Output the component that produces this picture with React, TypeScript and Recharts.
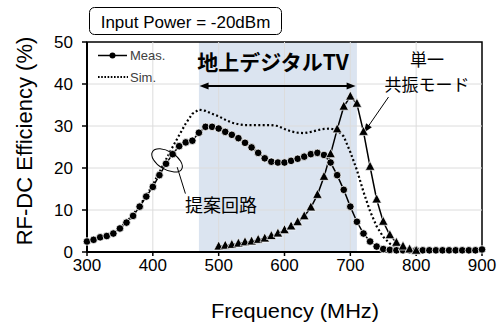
import {
  ComposedChart,
  Line,
  ReferenceArea,
  ReferenceDot,
  ReferenceLine,
  XAxis,
  YAxis,
} from "recharts";

const frequency = [
  300, 310, 320, 330, 340, 350, 360, 370, 380, 390, 400, 410, 420, 430, 440,
  450, 460, 470, 480, 490, 500, 510, 520, 530, 540, 550, 560, 570, 580, 590,
  600, 610, 620, 630, 640, 650, 660, 670, 680, 690, 700, 710, 720, 730, 740,
  750, 760, 770, 780, 790, 800, 810, 820, 830, 840, 850, 860, 870, 880, 890,
  900,
];

// proposed circuit, measured
const measured = [
  2.5, 2.9, 3.5, 3.8, 4.4, 5.6, 7.0, 8.6, 10.8, 13.2, 15.5, 18.3, 21.0, 23.3,
  25.2, 26.1, 26.5, 28.4, 29.8, 29.8, 29.4, 28.6, 27.9, 27.1, 26.0, 24.9, 23.6,
  22.3, 21.5, 21.3, 21.3, 21.7, 22.2, 22.7, 23.3, 23.6, 23.1, 21.3, 18.3, 14.8,
  10.8, 7.2, 4.4, 2.5, 1.3, 0.7, 0.5, 0.4, 0.4, 0.4, 0.4, 0.4, 0.4, 0.4, 0.4,
  0.4, 0.4, 0.4, 0.4, 0.4, 0.6,
];

// proposed circuit, simulated
const simulated = [
  2.5, 2.9, 3.4, 3.8, 4.5, 5.7, 7.2, 8.9, 11.0, 13.5, 16.0, 19.0, 22.0, 25.0,
  27.8, 30.6, 32.9, 33.9, 33.6, 32.9, 32.3, 31.5, 30.8, 30.4, 30.2, 30.2, 30.2,
  30.2, 30.2, 30.0, 29.3, 28.7, 28.4, 28.3, 28.6, 29.0, 29.3, 29.4, 29.0, 27.5,
  23.8, 19.5, 14.3, 9.7, 6.1, 3.6, 2.0, 1.1, 0.6, 0.4, 0.3, 0.3, 0.3, 0.3, 0.3,
  0.3, 0.3, 0.3, 0.3, 0.3, 0.3,
];

// single resonance mode
const singleFreq = [
  500, 510, 520, 530, 540, 550, 560, 570, 580, 590, 600, 610, 620, 630, 640,
  650, 660, 670, 680, 690, 700, 710, 720, 730, 740, 750, 760, 770, 780, 790,
  800,
];
const singleMode = [
  1.3, 1.5, 1.7, 2.0, 2.3, 2.5, 2.9, 3.2, 3.8, 4.4, 5.2, 6.1, 7.1, 8.5, 10.6,
  13.6, 17.9, 23.3, 29.2, 34.6, 37.0, 35.3, 28.6, 20.3, 12.5, 7.2, 4.0, 2.2,
  1.3, 0.6, 0.3,
];

const xTicks = [300, 400, 500, 600, 700, 800, 900];
const yTicks = [0, 10, 20, 30, 40, 50];
const gridX = [400, 500, 600, 700, 800];
const gridY = [10, 20, 30, 40];

const LATIN = '"Liberation Sans", Arial, sans-serif';
const CJK = '"Noto Sans CJK JP", "Noto Sans", sans-serif';

const data = frequency.map((f, i) => {
  const k = singleFreq.indexOf(f);
  return {
    f,
    meas: measured[i],
    sim: simulated[i],
    single: k >= 0 ? singleMode[k] : null,
  };
});

function arrowHead(x: number, y: number, fromX: number, fromY: number) {
  const a = Math.atan2(y - fromY, x - fromX);
  const len = 9;
  const w = 3.5;
  const bx = x - len * Math.cos(a);
  const by = y - len * Math.sin(a);
  const px = -Math.sin(a) * w;
  const py = Math.cos(a) * w;
  return `${x},${y} ${bx + px},${by + py} ${bx - px},${by - py}`;
}

function DoubleArrow(props: any) {
  const { x1, y1, x2, y2 } = props;
  return (
    <g>
      <line x1={x1 + 6} y1={y1} x2={x2 - 6} y2={y2} stroke="#000" strokeWidth={2} />
      <polygon points={arrowHead(x1, y1, x2, y2)} fill="#000" />
      <polygon points={arrowHead(x2, y2, x1, y1)} fill="#000" />
    </g>
  );
}

function LeaderArrow(props: any) {
  const { x1, y1, x2, y2 } = props;
  return (
    <g>
      <line x1={x1} y1={y1} x2={x2} y2={y2} stroke="#000" strokeWidth={1} />
      <polygon points={arrowHead(x2, y2, x1, y1)} fill="#000" />
    </g>
  );
}

function Leader(props: any) {
  const { x1, y1, x2, y2 } = props;
  return <line x1={x1} y1={y1} x2={x2} y2={y2} stroke="#000" strokeWidth={1} />;
}

function Ring(props: any) {
  const { cx, cy } = props;
  return (
    <ellipse
      cx={cx}
      cy={cy}
      rx={17}
      ry={9}
      fill="none"
      stroke="#000"
      strokeWidth={1}
      transform={`rotate(31 ${cx} ${cy})`}
    />
  );
}

function Triangle(props: any) {
  const { cx, cy, value, index } = props;
  if (value == null || cy == null) return <g key={`t${index}`} />;
  return (
    <polygon
      key={`t${index}`}
      points={`${cx},${cy - 5.5} ${cx - 4.8},${cy + 3.5} ${cx + 4.8},${cy + 3.5}`}
      fill="#000"
      stroke="#fff"
      strokeWidth={0.7}
    />
  );
}

export default function App() {
  return (
    <div style={{ position: "absolute", left: 0, top: 0, width: 500, height: 323, background: "#fff" }}>
      <ComposedChart
        width={500}
        height={323}
        data={data}
        margin={{ top: 42, right: 18, bottom: 0, left: 0 }}
      >
        <XAxis
          dataKey="f"
          type="number"
          domain={[300, 900]}
          ticks={xTicks}
          height={71}
          tickSize={4}
          tickMargin={3}
          axisLine={{ stroke: "#000", strokeWidth: 2 }}
          tickLine={{ stroke: "#000", strokeWidth: 1.5 }}
          tick={{ fontSize: 17, fill: "#000", fontFamily: LATIN }}
        />
        <YAxis
          type="number"
          domain={[0, 50]}
          ticks={yTicks}
          width={87}
          tickSize={5}
          tickMargin={9}
          axisLine={{ stroke: "#000", strokeWidth: 2 }}
          tickLine={{ stroke: "#000", strokeWidth: 1.5 }}
          tick={{ fontSize: 17, fill: "#000", fontFamily: LATIN }}
        />
        <ReferenceArea x1={470} x2={710} y1={0} y2={50} fill="#dbe4f0" fillOpacity={1} stroke="none" />
        {gridX.map((x) => (
          <ReferenceLine key={`gx${x}`} x={x} stroke="#dcdcdc" strokeWidth={1} />
        ))}
        {gridY.map((y) => (
          <ReferenceLine key={`gy${y}`} y={y} stroke="#dcdcdc" strokeWidth={1} />
        ))}
        <ReferenceArea x1={300} x2={900} y1={0} y2={50} fill="none" stroke="#000" strokeWidth={1.5} ifOverflow="visible" />
        <Line
          dataKey="sim"
          type="linear"
          stroke="#000"
          strokeWidth={2.2}
          strokeDasharray="2 2.4"
          dot={false}
          isAnimationActive={false}
        />
        <Line
          dataKey="meas"
          type="linear"
          stroke="#000"
          strokeWidth={1.5}
          dot={{ r: 3.8, fill: "#000", stroke: "#fff", strokeWidth: 0.8 }}
          isAnimationActive={false}
        />
        <Line
          dataKey="single"
          type="linear"
          stroke="#000"
          strokeWidth={1.5}
          dot={Triangle}
          isAnimationActive={false}
        />
        <ReferenceLine
          segment={[{ x: 471, y: 39.5 }, { x: 708, y: 39.5 }]}
          shape={DoubleArrow}
        />
        <ReferenceLine
          segment={[{ x: 758, y: 36.9 }, { x: 720.5, y: 28.4 }]}
          shape={LeaderArrow}
        />
        <ReferenceLine
          segment={[{ x: 437, y: 20.2 }, { x: 449.5, y: 13.9 }]}
          shape={Leader}
        />
        <ReferenceDot x={421.6} y={21.8} r={0} shape={Ring} />
      </ComposedChart>
      <svg
        width={500}
        height={323}
        style={{ position: "absolute", left: 0, top: 0, pointerEvents: "none" }}
      >
        <rect x={89.5} y={7.5} width={192} height={27} rx={5} fill="#fff" stroke="#000" strokeWidth={1} />
        <text x={185.5} y={27.5} textAnchor="middle" fontSize={17} fontFamily={LATIN} fill="#000">
          Input Power = -20dBm
        </text>
        <line x1={98} y1={55.5} x2={127} y2={55.5} stroke="#000" strokeWidth={1.5} />
        <circle cx={112.5} cy={55.5} r={3} fill="#000" />
        <text x={130} y={60} fontSize={13} fontFamily={LATIN} fill="#404040">
          Meas.
        </text>
        <line x1={98} y1={77} x2={128} y2={77} stroke="#000" strokeWidth={2} strokeDasharray="1.6 1.6" />
        <text x={130} y={81.5} fontSize={13} fontFamily={LATIN} fill="#404040">
          Sim.
        </text>
        <text x={273} y={70} textAnchor="middle" fontSize={21} fontWeight="bold" fontFamily={CJK} fill="#000">
          地上デジタルTV
        </text>
        <text x={427} y={66} textAnchor="middle" fontSize={17} fontFamily={CJK} fill="#000">
          単一
        </text>
        <text x={427} y={91} textAnchor="middle" fontSize={17} fontFamily={CJK} fill="#000">
          共振モード
        </text>
        <text x={221} y={212} textAnchor="middle" fontSize={18} fontFamily={CJK} fill="#000">
          提案回路
        </text>
        <text
          x={295}
          y={318}
          textAnchor="middle"
          fontSize={20}
          fontFamily={LATIN}
          fill="#000"
          textLength={168}
          lengthAdjust="spacingAndGlyphs"
        >
          Frequency (MHz)
        </text>
        <text
          x={31.5}
          y={141}
          textAnchor="middle"
          fontSize={22}
          fontFamily={LATIN}
          fill="#000"
          transform="rotate(-90 31.5 141)"
        >
          RF-DC Efficiency (%)
        </text>
      </svg>
    </div>
  );
}
